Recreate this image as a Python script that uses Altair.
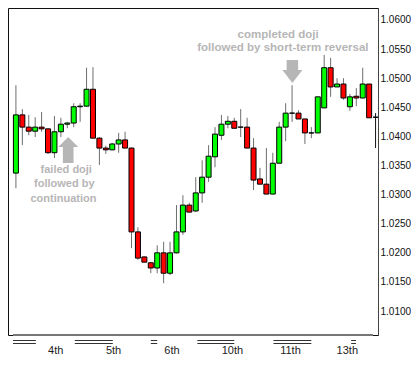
import altair as alt
import pandas as pd

# ---- data (one candle per entry) ----
opens = [1.0337, 1.0437, 1.0416, 1.0409, 1.0416, 1.0413, 1.0372, 1.0408, 1.0421, 1.0423,
         1.0451, 1.0452, 1.0481, 1.0397, 1.0380, 1.0377, 1.0387, 1.0394, 1.0380, 1.0236,
         1.0193, 1.0183, 1.0174, 1.0200, 1.0165, 1.0200, 1.0236, 1.0282, 1.0272, 1.0303,
         1.0330, 1.0365, 1.0402, 1.0421, 1.0426, 1.0416, 1.0416, 1.0380, 1.0327, 1.0318,
         1.0301, 1.0354, 1.0416, 1.0440, 1.0440, 1.0430, 1.0406, 1.0406, 1.0449, 1.0518,
         1.0485, 1.0490, 1.0451, 1.0469, 1.0466, 1.0490, 1.0433]
highs = [1.0488, 1.0447, 1.0437, 1.0433, 1.0442, 1.0414, 1.0435, 1.0432, 1.0425, 1.0457,
         1.0457, 1.0518, 1.0519, 1.0399, 1.0384, 1.0389, 1.0406, 1.0408, 1.0381, 1.0244,
         1.0194, 1.0184, 1.0213, 1.0219, 1.0219, 1.0282, 1.0299, 1.0286, 1.0330, 1.0359,
         1.0385, 1.0416, 1.0437, 1.0435, 1.0432, 1.0447, 1.0432, 1.0397, 1.0346, 1.0380,
         1.0372, 1.0425, 1.0457, 1.0488, 1.0445, 1.0430, 1.0416, 1.0468, 1.0540, 1.0535,
         1.0500, 1.0500, 1.0473, 1.0483, 1.0518, 1.0490, 1.0440]
lows = [1.0311, 1.0385, 1.0402, 1.0399, 1.0408, 1.0370, 1.0363, 1.0399, 1.0414, 1.0416,
        1.0425, 1.0451, 1.0397, 1.0351, 1.0370, 1.0376, 1.0372, 1.0380, 1.0208, 1.0188,
        1.0184, 1.0165, 1.0165, 1.0148, 1.0162, 1.0199, 1.0231, 1.0270, 1.0270, 1.0286,
        1.0322, 1.0347, 1.0394, 1.0414, 1.0414, 1.0399, 1.0380, 1.0308, 1.0318, 1.0301,
        1.0301, 1.0354, 1.0392, 1.0425, 1.0430, 1.0387, 1.0397, 1.0406, 1.0449, 1.0468,
        1.0485, 1.0463, 1.0444, 1.0452, 1.0466, 1.0432, 1.0380]
closes = [1.0437, 1.0416, 1.0409, 1.0416, 1.0413, 1.0372, 1.0408, 1.0421, 1.0423, 1.0451,
          1.0452, 1.0481, 1.0397, 1.0380, 1.0377, 1.0387, 1.0394, 1.0380, 1.0236, 1.0191,
          1.0184, 1.0174, 1.0200, 1.0165, 1.0200, 1.0236, 1.0282, 1.0270, 1.0303, 1.0330,
          1.0366, 1.0404, 1.0421, 1.0426, 1.0414, 1.0416, 1.0380, 1.0325, 1.0318, 1.0301,
          1.0354, 1.0416, 1.0440, 1.0440, 1.0430, 1.0406, 1.0406, 1.0468, 1.0518, 1.0485,
          1.0490, 1.0466, 1.0468, 1.0466, 1.0490, 1.0432, 1.0433]

day_labels = ["4th", "5th", "6th", "10th", "11th", "13th"]
day_label_pos = [6.2, 15.2, 24.3, 33.7, 42.75, 51.6]
session_start = [-0.453, 9.17, 21.0, 28.25, 40.1, 52.2]
session_end = [3.11, 15.09, 22.0, 34.0, 46.0, 52.96]
price_ticks = [1.0100, 1.0150, 1.0200, 1.0250, 1.0300, 1.0350, 1.0400, 1.0450,
               1.0500, 1.0550, 1.0600]

note_low = ["failed doji", "followed by", "continuation"]
note_low_pos = [7.84, 7.54, 7.4]
note_high = ["completed doji", "followed by short-term reversal"]
note_high_pos = [40.83, 41.57]
arrow_up_pos = [8.14]
arrow_down_pos = [43.05]

# ---- tables ----
df = pd.DataFrame({"i": list(range(len(opens))), "open": opens, "high": highs,
                   "low": lows, "close": closes})
df["dir"] = ["up" if c >= o else "down" for o, c in zip(opens, closes)]
main = df[df["i"] <= 55]
tail = df[df["i"] > 55]

W, H = 370, 327
XDOM = [-0.453, 55.6]
xscale = alt.Scale(domain=XDOM, nice=False, zero=False)
yscale = alt.Scale(domain=[1.00589, 1.06206], nice=False, zero=False)
X = alt.X("i:Q", scale=xscale, axis=None)
GREY = "#b6b6b6"
YAXIS = alt.Axis(orient="right", values=price_ticks, format=".4f",
                 ticks=False, grid=False, labelPadding=2,
                 labelFont="Liberation Sans", labelFontSize=10,
                 labelColor="#111", domainColor="#444", domainWidth=1,
                 labelOverlap=False, title=None)


def Y(field):
    return alt.Y(field, scale=yscale, axis=YAXIS, title=None)


wicks = alt.Chart(main).mark_rule(color="#6e6e6e", strokeWidth=1, clip=True).encode(
    x=X, y=Y("low:Q"), y2="high:Q")

bodies = alt.Chart(main).mark_bar(size=5, stroke="#000", strokeWidth=1, clip=True).encode(
    x=X,
    y=Y("open:Q"),
    y2="close:Q",
    color=alt.Color("dir:N", scale=alt.Scale(domain=["up", "down"],
                                             range=["#00ff00", "#ff0000"]), legend=None),
)

tail_wick = alt.Chart(tail).mark_rule(color="#111", strokeWidth=1).encode(
    x=X, y=Y("low:Q"), y2="high:Q")
tail_body = alt.Chart(tail).mark_bar(size=5, stroke="#000", strokeWidth=1, fill="#000").encode(
    x=X, y=Y("open:Q"), y2="close:Q")

# bottom axis line (grey, slightly heavier)
bottom = alt.Chart(pd.DataFrame({"s": [XDOM[0]], "e": [XDOM[1]]})).mark_rule(
    color="#777", strokeWidth=2).encode(
    x=alt.X("s:Q", scale=xscale, axis=None), x2="e:Q", y=alt.value(H))

layers = [wicks, bodies, tail_wick, tail_body, bottom]

# session double lines under the axis
sess = pd.DataFrame({"s": session_start, "e": session_end})
for ypix in (332.5, 335.5):
    layers.append(alt.Chart(sess).mark_rule(color="#333", strokeWidth=1).encode(
        x=alt.X("s:Q", scale=xscale, axis=None), x2="e:Q", y=alt.value(ypix)))

# day labels
days = pd.DataFrame({"t": day_labels, "p": day_label_pos})
layers.append(alt.Chart(days).mark_text(font="Liberation Sans", fontSize=11, color="#222",
                                        align="center", baseline="middle").encode(
    x=alt.X("p:Q", scale=xscale, axis=None), y=alt.value(343), text="t:N"))


# annotation texts
def note(text, pos, ypix, size):
    d = pd.DataFrame({"t": [text], "p": [pos]})
    return alt.Chart(d).mark_text(font="Liberation Sans", fontWeight="bold", fontSize=size,
                                  color=GREY, align="center", baseline="alphabetic").encode(
        x=alt.X("p:Q", scale=xscale, axis=None), y=alt.value(ypix), text="t:N")


for t, p, yp in zip(note_low, note_low_pos, [164.7, 178.7, 193.7]):
    layers.append(note(t, p, yp, 11))
for t, p, yp in zip(note_high, note_high_pos, [29.5, 43]):
    layers.append(note(t, p, yp, 11.5))

# arrows
up_path = "M0,-1 L0.77,-0.23 L0.41,-0.23 L0.41,1 L-0.41,1 L-0.41,-0.23 L-0.77,-0.23 Z"
down_path = "M0,1 L0.87,-0.13 L0.5,-0.13 L0.5,-1 L-0.5,-1 L-0.5,-0.13 L-0.87,-0.13 Z"
layers.append(alt.Chart(pd.DataFrame({"p": arrow_up_pos})).mark_point(
    shape=up_path, filled=True, color=GREY, opacity=1, size=676, strokeWidth=0).encode(
    x=alt.X("p:Q", scale=xscale, axis=None), y=alt.value(142)))
layers.append(alt.Chart(pd.DataFrame({"p": arrow_down_pos})).mark_point(
    shape=down_path, filled=True, color=GREY, opacity=1, size=529, strokeWidth=0).encode(
    x=alt.X("p:Q", scale=xscale, axis=None), y=alt.value(63.5)))

chart = alt.layer(*layers).properties(
    width=W, height=H, padding={"left": 0, "top": 0, "right": 0, "bottom": 0}
).configure(background="white").configure_view(stroke="#111", strokeWidth=1)

chart.save("out.html", embed_options={"renderer": "svg", "actions": False})
